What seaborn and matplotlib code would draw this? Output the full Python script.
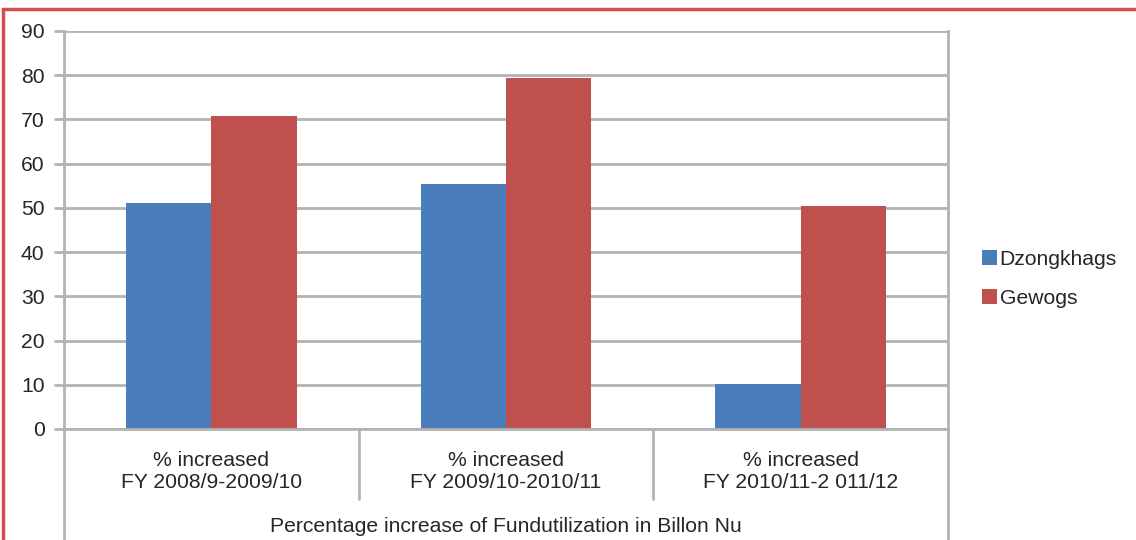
import matplotlib
matplotlib.use("Agg")
import matplotlib.pyplot as plt
import matplotlib.patches as mpatches
import pandas as pd
import seaborn as sns

# Data
periods = ["FY 2008/9-2009/10", "FY 2009/10-2010/11", "FY 2010/11-2 011/12"]
dzongkhags = [51.0, 55.4, 10.2]
gewogs = [70.7, 79.4, 50.4]
series_names = ["Dzongkhags", "Gewogs"]
yticks = [0, 10, 20, 30, 40, 50, 60, 70, 80, 90]
group_title = "Percentage increase of Fundutilization in Billon Nu"

df = pd.DataFrame({
    "period": periods * 2,
    "series": [series_names[0]] * 3 + [series_names[1]] * 3,
    "value": dzongkhags + gewogs,
})

sns.set_theme(style="white")
plt.rcParams["font.family"] = ["Liberation Sans", "DejaVu Sans"]

text_color = "#262626"
grid_color = "#B3B3B3"
fs = 15.2

fig = plt.figure(figsize=(11.36, 5.4), dpi=100)
ax = fig.add_axes([64 / 1136, 111 / 540, 884 / 1136, 398 / 540])

sns.barplot(
    data=df, x="period", y="value", hue="series", order=periods,
    hue_order=series_names, palette=["#4A7EBB", "#C0504D"],
    width=0.58, saturation=1, ax=ax, legend=False, linewidth=0,
)

ax.set_xlim(-0.5, 2.5)
ax.set_ylim(0, 90)
ax.set_yticks(yticks)
ax.set_yticklabels([str(v) for v in yticks], fontsize=fs, color=text_color)
ax.set_xticks([])
ax.set_xlabel("")
ax.set_ylabel("")

# Horizontal gridlines behind the bars
ax.set_axisbelow(True)
ax.yaxis.grid(True, color=grid_color, linewidth=2)
ax.tick_params(axis="y", which="major", length=7, width=2, color=grid_color,
               pad=7, left=True)

for side in ["left", "right"]:
    ax.spines[side].set_color(grid_color)
    ax.spines[side].set_linewidth(2)
ax.spines["top"].set_visible(False)
ax.spines["bottom"].set_color(grid_color)
ax.spines["bottom"].set_linewidth(2)

# Multi-level category axis: separators and labels
trans = ax.get_xaxis_transform()
for xb in [0.5, 1.5]:
    ax.plot([xb, xb], [0, -70 / 398], transform=trans, color=grid_color,
            linewidth=2, clip_on=False)
for xb in [-0.5, 2.5]:
    ax.plot([xb, xb], [0, -120 / 398], transform=trans, color=grid_color,
            linewidth=2, clip_on=False)

for i, p in enumerate(periods):
    ax.text(i, -31 / 398, "% increased", transform=trans, ha="center",
            va="center", fontsize=fs, color=text_color)
    ax.text(i, -54 / 398, p, transform=trans, ha="center", va="center",
            fontsize=fs, color=text_color)
ax.text(1, -97 / 398, group_title, transform=trans, ha="center",
        va="center", fontsize=fs, color=text_color)

# Legend on the right
handles = [mpatches.Patch(facecolor=c, edgecolor="none")
           for c in ["#4A7EBB", "#C0504D"]]
fig.legend(handles, series_names, loc="center left",
           bbox_to_anchor=(982 / 1136, 1 - 279 / 540), frameon=False,
           fontsize=fs, handlelength=0.72, handleheight=0.72,
           handletextpad=0.12, labelspacing=0.95, borderpad=0,
           borderaxespad=0, labelcolor=text_color)

# Chart frame
frame = mpatches.Rectangle((3 / 1136, -0.1), 1.1, 1.1 - 8.5 / 540,
                           transform=fig.transFigure, fill=False,
                           edgecolor="#D05050", linewidth=2.5, zorder=10)
fig.patches.append(frame)

fig.savefig("out.png", dpi=100)
